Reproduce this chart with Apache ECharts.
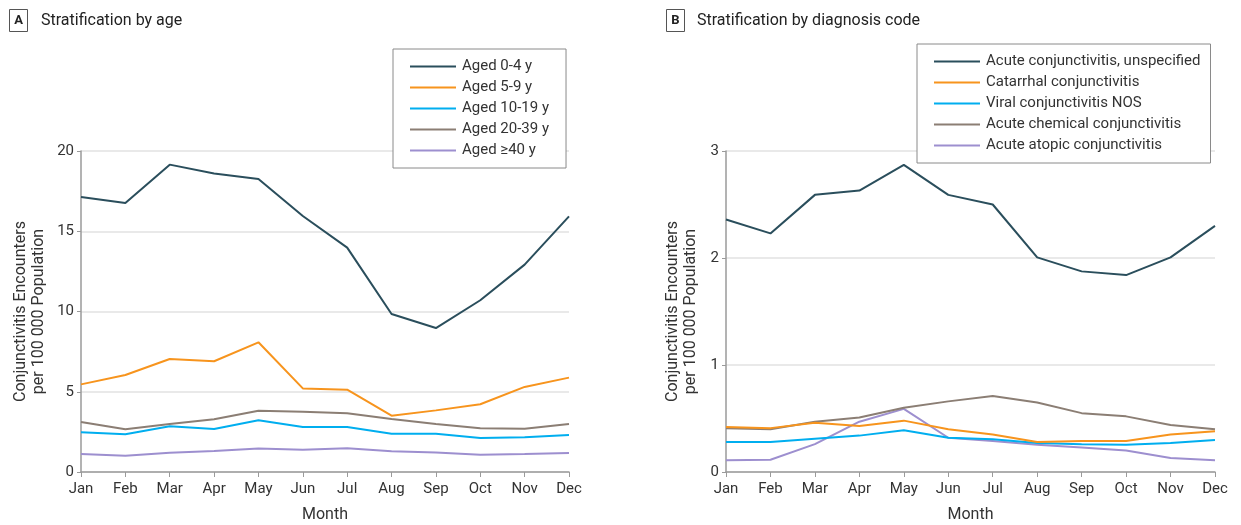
<!DOCTYPE html>
<html>
<head>
<meta charset="utf-8">
<script src="https://cdn.jsdelivr.net/npm/echarts@6/dist/echarts.min.js"></script>
<style>
html,body{margin:0;padding:0;background:#fff;}
#main{width:1241px;height:525px;}
</style>
</head>
<body>
<div id="main"></div>
<script>
const months = ['Jan','Feb','Mar','Apr','May','Jun','Jul','Aug','Sep','Oct','Nov','Dec'];

// Panel A: stratification by age
const ageNames = ['Aged 0-4 y','Aged 5-9 y','Aged 10-19 y','Aged 20-39 y','Aged \u226540 y'];
const aged0_4   = [17.13, 16.76, 19.15, 18.6, 18.26, 15.95, 13.98, 9.84, 8.97, 10.7, 12.92, 15.93];
const aged5_9   = [5.46, 6.04, 7.04, 6.9, 8.08, 5.21, 5.13, 3.51, 3.84, 4.22, 5.3, 5.88];
const aged10_19 = [2.47, 2.35, 2.85, 2.68, 3.22, 2.8, 2.8, 2.39, 2.39, 2.12, 2.16, 2.31];
const aged20_39 = [3.12, 2.66, 2.99, 3.28, 3.82, 3.76, 3.66, 3.3, 2.99, 2.72, 2.7, 2.99];
const aged40    = [1.12, 1.02, 1.2, 1.31, 1.47, 1.39, 1.48, 1.29, 1.21, 1.08, 1.12, 1.18];

// Panel B: stratification by diagnosis code
const codeNames = ['Acute conjunctivitis, unspecified','Catarrhal conjunctivitis','Viral conjunctivitis NOS','Acute chemical conjunctivitis','Acute atopic conjunctivitis'];
const acuteUnspec = [2.36, 2.23, 2.59, 2.63, 2.87, 2.59, 2.5, 2.006, 1.875, 1.84, 2.006, 2.3];
const catarrhal   = [0.42, 0.41, 0.46, 0.43, 0.48, 0.40, 0.35, 0.28, 0.29, 0.29, 0.35, 0.38];
const viralNOS    = [0.28, 0.28, 0.31, 0.34, 0.39, 0.32, 0.305, 0.27, 0.26, 0.255, 0.27, 0.30];
const chemical    = [0.41, 0.40, 0.47, 0.51, 0.60, 0.66, 0.71, 0.65, 0.55, 0.52, 0.44, 0.40];
const atopic      = [0.11, 0.115, 0.26, 0.47, 0.59, 0.32, 0.29, 0.255, 0.23, 0.20, 0.13, 0.11];

const yTicksA = {min: 0, max: 20, interval: 5};
const yTicksB = {min: 0, max: 3, interval: 1};

const colors = ['#2a4e5c', '#f7941d', '#00aeef', '#8b7e74', '#9d8fcf'];
const FONT = "'Liberation Sans Narrow', 'Roboto', sans-serif";
const yName = 'Conjunctivitis Encounters\nper 100 000 Population';

const chart = echarts.init(document.getElementById('main'), null, {renderer: 'canvas'});

function xAxis(gridIndex) {
  return {
    type: 'category', gridIndex, data: months, boundaryGap: false,
    name: 'Month', nameLocation: 'middle', nameGap: 35,
    nameTextStyle: {fontFamily: FONT, fontSize: 16, color: '#333'},
    axisLine: {lineStyle: {color: '#9a9a9a', width: 1.5}},
    axisTick: {show: true, length: 5, lineStyle: {color: '#9a9a9a'}},
    axisLabel: {fontFamily: FONT, fontSize: 15, color: '#333', margin: 10},
    splitLine: {show: false}
  };
}
function yAxis(gridIndex, t, gap) {
  return {
    type: 'value', gridIndex, min: t.min, max: t.max, interval: t.interval,
    name: yName, nameLocation: 'middle', nameGap: gap, nameRotate: 90,
    nameTextStyle: {fontFamily: FONT, fontSize: 16, color: '#333', lineHeight: 18},
    axisLine: {show: true, lineStyle: {color: '#9a9a9a', width: 1.5}},
    axisTick: {show: true, length: 4, lineStyle: {color: '#9a9a9a'}},
    axisLabel: {fontFamily: FONT, fontSize: 15, color: '#333', margin: 7},
    splitLine: {show: true, lineStyle: {color: '#e2e2e2', width: 1.5}}
  };
}
function legend(data, left, top, padRight) {
  return {
    data, left, top, orient: 'vertical',
    backgroundColor: '#fff',
    borderColor: '#8a8a8a', borderWidth: 1,
    padding: [10, padRight, 10, 17],
    itemWidth: 46, itemHeight: 14, itemGap: 6,
    icon: 'path://M0,6 L46,6 L46,8 L0,8 Z',
    textStyle: {fontFamily: FONT, fontSize: 15, color: '#333', padding: [0, 0, 0, 1]}
  };
}
function line(name, data, idx, axisIndex) {
  return {
    name, type: 'line', data, xAxisIndex: axisIndex, yAxisIndex: axisIndex,
    symbol: 'none', color: colors[idx],
    lineStyle: {width: 2, color: colors[idx]},
    z: 10 - idx, animation: false
  };
}

const option = {
  animation: false,
  backgroundColor: '#fff',
  grid: [
    {left: 81, right: 672, top: 151, bottom: 53, outerBoundsMode: 'none', containLabel: false},
    {left: 726, right: 26, top: 151, bottom: 53, outerBoundsMode: 'none', containLabel: false}
  ],
  xAxis: [xAxis(0), xAxis(1)],
  yAxis: [yAxis(0, yTicksA, 33), yAxis(1, yTicksB, 26)],
  legend: [legend(ageNames, 393, 49, 17), legend(codeNames, 917, 44, 10)],
  series: [
    line(ageNames[0], aged0_4, 0, 0),
    line(ageNames[1], aged5_9, 1, 0),
    line(ageNames[2], aged10_19, 2, 0),
    line(ageNames[3], aged20_39, 3, 0),
    line(ageNames[4], aged40, 4, 0),
    line(codeNames[0], acuteUnspec, 0, 1),
    line(codeNames[1], catarrhal, 1, 1),
    line(codeNames[2], viralNOS, 2, 1),
    line(codeNames[3], chemical, 3, 1),
    line(codeNames[4], atopic, 4, 1)
  ],
  graphic: [
    {type: 'rect', shape: {x: 9.5, y: 9.5, width: 18, height: 22}, style: {fill: '#fff', stroke: '#555', lineWidth: 1}},
    {type: 'text', x: 18.5, y: 21, style: {text: 'A', font: "bold 13px " + FONT, fill: '#222', align: 'center', verticalAlign: 'middle'}},
    {type: 'text', x: 41, y: 21, style: {text: 'Stratification by age', font: "16px " + FONT, fill: '#222', align: 'left', verticalAlign: 'middle'}},
    {type: 'rect', shape: {x: 666.5, y: 9.5, width: 18, height: 22}, style: {fill: '#fff', stroke: '#555', lineWidth: 1}},
    {type: 'text', x: 675.5, y: 21, style: {text: 'B', font: "bold 13px " + FONT, fill: '#222', align: 'center', verticalAlign: 'middle'}},
    {type: 'text', x: 697, y: 21, style: {text: 'Stratification by diagnosis code', font: "16px " + FONT, fill: '#222', align: 'left', verticalAlign: 'middle'}}
  ]
};
chart.setOption(option);
</script>
</body>
</html>
